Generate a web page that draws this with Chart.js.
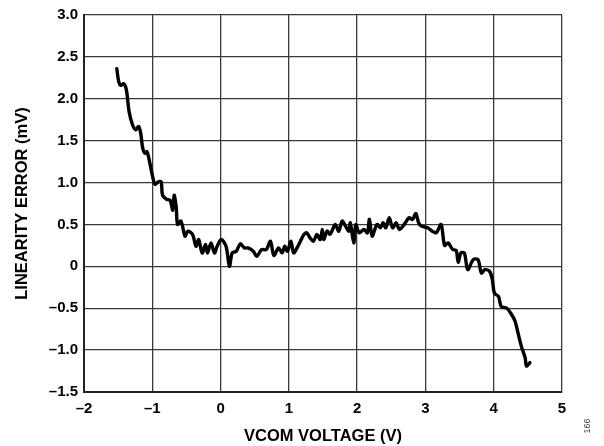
<!DOCTYPE html>
<html>
<head>
<meta charset="utf-8">
<script src="https://cdn.jsdelivr.net/npm/chart.js@4.4.1/dist/chart.umd.min.js"></script>
<style>
  html, body { margin: 0; padding: 0; background: #fff; }
  #wrap { width: 604px; height: 446px; position: relative; }
</style>
</head>
<body>
<div id="wrap"><canvas id="linChart"></canvas></div>
<script>
// VCOM voltage (V) and linearity error (mV)
const vcom = [
  -1.52, -1.49, -1.46, -1.42, -1.38, -1.34, -1.29, -1.24, -1.20, -1.17,
  -1.14, -1.11, -1.08, -1.05, -1.00, -0.96, -0.91, -0.87, -0.85, -0.79,
  -0.74, -0.70, -0.68, -0.65, -0.63, -0.58, -0.52, -0.48, -0.41, -0.36,
  -0.32, -0.27, -0.22, -0.19, -0.14, -0.09, -0.05, 0.01, 0.08, 0.13,
  0.17, 0.23, 0.29, 0.35, 0.40, 0.48, 0.53, 0.60, 0.67, 0.73,
  0.78, 0.85, 0.90, 0.94, 0.98, 1.03, 1.07, 1.12, 1.17, 1.22,
  1.26, 1.31, 1.36, 1.41, 1.46, 1.49, 1.51, 1.56, 1.60, 1.63,
  1.68, 1.73, 1.78, 1.83, 1.88, 1.90, 1.95, 1.98, 2.03, 2.10,
  2.15, 2.18, 2.22, 2.29, 2.34, 2.38, 2.42, 2.47, 2.52, 2.57,
  2.62, 2.69, 2.76, 2.81, 2.86, 2.90, 2.94, 3.03, 3.10, 3.16,
  3.23, 3.28, 3.33, 3.40, 3.45, 3.48, 3.52, 3.57, 3.62, 3.70,
  3.77, 3.82, 3.87, 3.94, 3.98, 4.01, 4.07, 4.11, 4.19, 4.25,
  4.31, 4.36, 4.41, 4.46, 4.48, 4.53
];
const linErr = [
  2.36, 2.20, 2.16, 2.18, 2.11, 1.85, 1.69, 1.63, 1.67, 1.59,
  1.41, 1.35, 1.37, 1.29, 1.09, 0.98, 1.01, 1.01, 0.85, 0.80,
  0.79, 0.67, 0.85, 0.71, 0.50, 0.54, 0.36, 0.42, 0.38, 0.24,
  0.32, 0.16, 0.26, 0.16, 0.28, 0.16, 0.24, 0.32, 0.24, 0.00,
  0.16, 0.18, 0.27, 0.22, 0.22, 0.18, 0.12, 0.20, 0.20, 0.30,
  0.13, 0.22, 0.16, 0.24, 0.18, 0.30, 0.16, 0.22, 0.30, 0.38,
  0.40, 0.34, 0.30, 0.38, 0.32, 0.44, 0.32, 0.42, 0.38, 0.42,
  0.50, 0.42, 0.54, 0.48, 0.42, 0.52, 0.28, 0.50, 0.40, 0.44,
  0.40, 0.56, 0.36, 0.50, 0.46, 0.52, 0.46, 0.58, 0.46, 0.52,
  0.44, 0.50, 0.58, 0.56, 0.63, 0.52, 0.48, 0.46, 0.42, 0.40,
  0.50, 0.25, 0.28, 0.20, 0.19, 0.05, 0.16, 0.16, -0.04, 0.08,
  0.08, -0.08, -0.04, -0.06, -0.16, -0.32, -0.36, -0.48, -0.50, -0.56,
  -0.65, -0.81, -0.97, -1.09, -1.19, -1.15
];

const xTicks = [-2, -1, 0, 1, 2, 3, 4, 5];
const xTickLabels = ['–2', '–1', '0', '1', '2', '3', '4', '5'];
const yTicks = [-1.5, -1.0, -0.5, 0, 0.5, 1.0, 1.5, 2.0, 2.5, 3.0];
const yTickLabels = ['–1.5', '–1.0', '–0.5', '0', '0.5', '1.0', '1.5', '2.0', '2.5', '3.0'];

const points = vcom.map((v, i) => ({ x: v, y: linErr[i] }));
const fontFam = '"Liberation Sans", Arial, Helvetica, sans-serif';

function pickLabel(ticks, labels, value) {
  const i = ticks.findIndex(t => Math.abs(t - value) < 1e-6);
  return i >= 0 ? labels[i] : '';
}

// small figure number at the lower right corner
const figNumber = {
  id: 'figNumber',
  afterDraw(chart) {
    const ctx = chart.ctx;
    ctx.save();
    ctx.translate(588, 426);
    ctx.rotate(-Math.PI / 2);
    ctx.font = '9px ' + fontFam;
    ctx.fillStyle = '#444';
    ctx.textAlign = 'center';
    ctx.textBaseline = 'middle';
    ctx.fillText('166', 0, 0);
    ctx.restore();
  }
};

const ctx = document.getElementById('linChart');
new Chart(ctx, {
  type: 'scatter',
  data: {
    datasets: [{
      data: points,
      showLine: true,
      borderColor: '#000',
      borderWidth: 3.4,
      pointRadius: 0,
      tension: 0.3,
      borderCapStyle: 'round',
      borderJoinStyle: 'round'
    }]
  },
  options: {
    responsive: true,
    maintainAspectRatio: false,
    animation: false,
    layout: { padding: { left: 0, right: 42, top: 11, bottom: 0 } },
    plugins: {
      legend: { display: false },
      tooltip: { enabled: false }
    },
    scales: {
      x: {
        type: 'linear',
        min: -2,
        max: 5,
        afterBuildTicks: s => { s.ticks = xTicks.map(v => ({ value: v })); },
        afterFit: s => { s.height = 54; },
        ticks: {
          color: '#000',
          padding: 8,
          font: { family: fontFam, size: 15, weight: 'bold' },
          callback: v => pickLabel(xTicks, xTickLabels, v)
        },
        grid: { color: '#3a3a3a', lineWidth: 1.3, drawTicks: false },
        border: { color: '#222', width: 2 },
        title: {
          display: true,
          text: 'VCOM VOLTAGE (V)',
          color: '#000',
          padding: { top: 0, bottom: 0 },
          font: { family: fontFam, size: 16.5, weight: 'bold' }
        }
      },
      y: {
        type: 'linear',
        min: -1.5,
        max: 3.0,
        afterBuildTicks: s => { s.ticks = yTicks.map(v => ({ value: v })); },
        afterFit: s => { s.width = 84; },
        ticks: {
          color: '#000',
          padding: 6,
          font: { family: fontFam, size: 15, weight: 'bold' },
          callback: v => pickLabel(yTicks, yTickLabels, v)
        },
        grid: { color: '#3a3a3a', lineWidth: 1.3, drawTicks: false },
        border: { color: '#222', width: 2 },
        title: {
          display: true,
          text: 'LINEARITY ERROR (mV)',
          color: '#000',
          padding: { top: 13 },
          font: { family: fontFam, size: 16.5, weight: 'bold' }
        }
      }
    }
  },
  plugins: [figNumber]
});
</script>
</body>
</html>
